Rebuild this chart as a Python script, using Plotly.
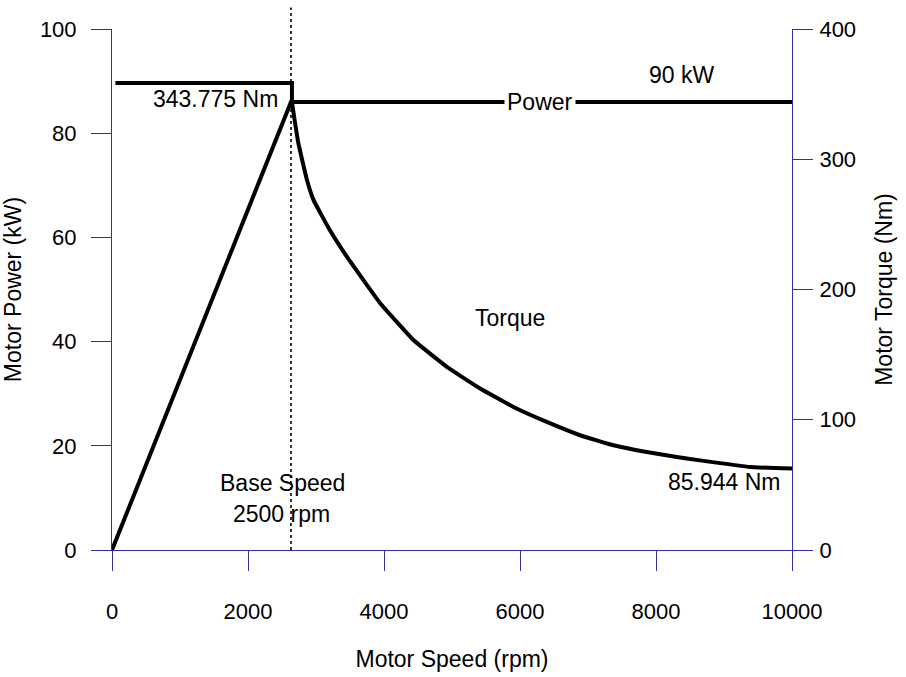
import plotly.graph_objects as go

# ---- data ----
base_speed = 2632  # rpm position of the dotted base-speed line

power_speed = [0, 2632, 10000]
power_kw = [0, 86.0, 86.0]

torque_speed = [50, 2646, 2646, 2687, 2739, 2866, 2963, 3194, 3454, 3944, 4433, 4924,
                5414, 5904, 6394, 6884, 7373, 7864, 8305, 8648, 9383, 10000]
torque_nm = [358.6, 358.6, 344.2, 329.6, 312.7, 284.2, 268.8, 246.5, 225.2, 189.4, 161.2, 140.6,
             124.0, 109.8, 98.3, 88.1, 80.4, 75.2, 71.4, 68.8, 63.7, 62.5]

x_ticks = [0, 2000, 4000, 6000, 8000, 10000]
y_ticks = [0, 20, 40, 60, 80, 100]
y2_ticks = [0, 100, 200, 300, 400]

FONT = "Liberation Sans, Arial, sans-serif"
AXC = "#32329c"
FS_TICK = 22
FS_TEXT = 23

fig = go.Figure()
fig.add_trace(go.Scatter(x=power_speed, y=power_kw, mode="lines",
                         line=dict(color="black", width=4), yaxis="y", showlegend=False))
# constant-torque region (flat + drop at base speed)
fig.add_trace(go.Scatter(x=torque_speed[:3], y=torque_nm[:3], mode="lines",
                         line=dict(color="black", width=4),
                         yaxis="y2", showlegend=False))
# constant-power region (decaying torque)
fig.add_trace(go.Scatter(x=torque_speed[2:], y=torque_nm[2:], mode="lines",
                         line=dict(color="black", width=4, shape="spline", smoothing=0.3),
                         yaxis="y2", showlegend=False))

fig.add_shape(type="line", xref="x", yref="paper", x0=base_speed, x1=base_speed,
              y0=0, y1=1.0414, line=dict(color="black", width=1.6, dash="dot"))

ann = dict(showarrow=False, font=dict(family=FONT, size=FS_TEXT, color="black"))
fig.add_annotation(x=2474, y=86.6, text="343.775 Nm", xanchor="right", **ann)
fig.add_annotation(x=8376, y=91.25, text="90 kW", **ann)
fig.add_annotation(x=6296, y=86.06, text="Power", bgcolor="white", borderpad=2, **ann)
fig.add_annotation(x=5855, y=44.5, text="Torque", **ann)
fig.add_annotation(x=9866, y=13.0, text="85.944 Nm", xanchor="right", **ann)
fig.add_annotation(x=2511, y=12.8, text="Base Speed", **ann)
fig.add_annotation(x=2499, y=7.0, text="2500 rpm", **ann)

common = dict(showgrid=False, zeroline=False, showline=True, linecolor=AXC, linewidth=1,
              ticks="outside", ticklen=20, tickcolor=AXC, tickwidth=1.3, automargin=False,
              tickfont=dict(family=FONT, size=FS_TICK, color="black"))
tfont = dict(family=FONT, size=FS_TEXT, color="black")

fig.update_layout(
    width=906, height=677,
    margin=dict(l=112, r=114, t=29, b=127, pad=0),
    plot_bgcolor="white", paper_bgcolor="white",
    font=dict(family=FONT, size=FS_TICK, color="black"),
    xaxis=dict(range=[0, 10000], tickvals=x_ticks, ticktext=[str(v) for v in x_ticks],
               ticklabelstandoff=22,
               title=dict(text="Motor Speed (rpm)", standoff=27, font=tfont), **common),
    yaxis=dict(range=[0, 100], tickvals=y_ticks, ticktext=[str(v) for v in y_ticks],
               ticklabelstandoff=10,
               title=dict(text="Motor Power (kW)", standoff=11, font=tfont), **common),
    yaxis2=dict(range=[0, 400], tickvals=y2_ticks, ticktext=[str(v) for v in y2_ticks],
                overlaying="y", side="right", ticklabelstandoff=2,
                title=dict(text="Motor Torque (Nm)", standoff=20, font=tfont), **common),
)

fig.write_html("out.html")
